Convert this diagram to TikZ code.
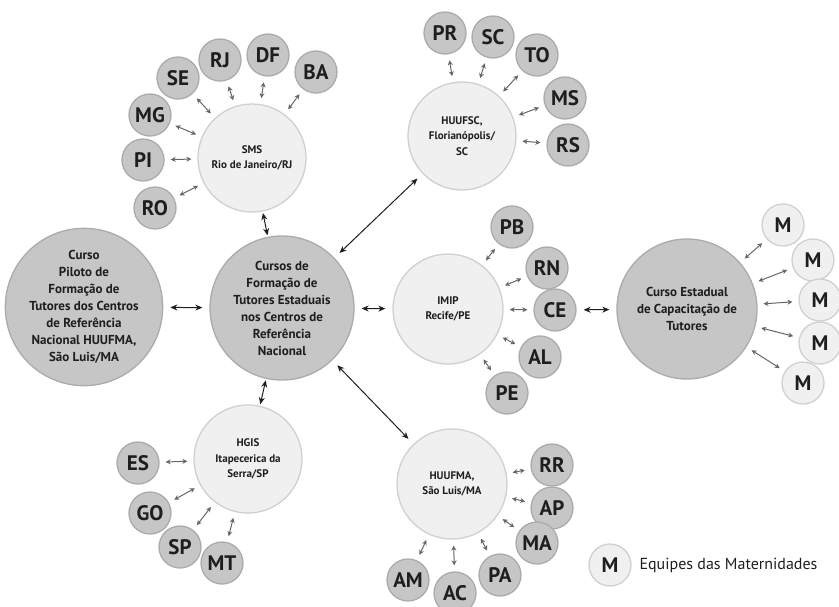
\documentclass[tikz,border=0pt]{standalone}
\usepackage{fontspec}
\setmainfont{PT Sans}
\usetikzlibrary{arrows.meta}
\definecolor{darkfill}{HTML}{C6C6C6}
\definecolor{darkline}{HTML}{ABABAB}
\definecolor{lightfill}{HTML}{F0F0F0}
\definecolor{lightline}{HTML}{D0D0D0}
\definecolor{txt}{HTML}{1E1E1E}
\definecolor{sgray}{HTML}{666666}
\tikzset{
  bigdark/.style={circle, fill=darkfill, draw=darkline, line width=1.3pt, inner sep=0pt, align=center, text=txt, font=\bfseries\fontsize{13}{17}\selectfont},
  hub/.style={circle, fill=lightfill, draw=lightline, line width=1.3pt, inner sep=0pt, align=center, text=txt, minimum size=108pt, font=\bfseries\fontsize{11}{15.5}\selectfont},
  st/.style={circle, fill=darkfill, draw=darkline, line width=1.3pt, inner sep=0pt, minimum size=42pt, text=txt, font=\bfseries\fontsize{21}{21}\selectfont},
  mm/.style={circle, fill=lightfill, draw=lightline, line width=1.3pt, inner sep=0pt, minimum size=42pt, text=txt, font=\bfseries\fontsize{21}{21}\selectfont},
  sarr/.style={<->, >={Stealth[length=5pt,width=5pt]}, draw=sgray, line width=1pt, shorten <=6pt, shorten >=6pt},
  barr/.style={<->, >={Stealth[length=7pt,width=6pt]}, draw=txt, line width=1pt, shorten <=7pt, shorten >=7pt},
  barrs/.style={barr, shorten <=1.5pt, shorten >=1.5pt},
}
\begin{document}
\begin{tikzpicture}[x=1pt,y=-1pt]
\useasboundingbox (0,0) rectangle (839,606);
% big nodes
\node[bigdark, minimum size=148pt] (piloto) at (84,307) {Curso\\Piloto de\\Formação de\\Tutores dos Centros\\de Referência\\Nacional HUUFMA,\\São Luis/MA};
\node[bigdark, minimum size=144pt] (central) at (282,308) {Cursos de\\Formação de\\Tutores Estaduais\\nos Centros de\\Referência\\Nacional};
\node[bigdark, minimum size=140pt] (estadual) at (687,309) {Curso Estadual\\de Capacitação de\\Tutores};
% hubs
\node[hub] (sms) at (252,158) {SMS\\Rio de Janeiro/RJ};
\node[hub] (huufsc) at (462,136) {HUUFSC,\\Florianópolis/\\SC};
\node[hub, minimum size=110pt] (imip) at (448,309) {IMIP\\Recife/PE};
\node[hub] (hgis) at (248,459) {HGIS\\Itapecerica da\\Serra/SP};
\node[hub, minimum size=110pt] (huufma) at (452,484) {HUUFMA,\\São Luis/MA};
% SMS states
\node[st] (SE) at (178,78) {SE};
\node[st] (RJ) at (220,60) {RJ};
\node[st] (DF) at (268,55) {DF};
\node[st] (BA) at (316,72) {BA};
\node[st] (MG) at (150,115) {MG};
\node[st] (PI) at (143,160) {PI};
\node[st] (RO) at (155,208) {RO};
\foreach \s in {SE,RJ,DF,BA,MG,PI,RO} \draw[sarr] (\s) -- (sms);
% HUUFSC states
\node[st] (PR) at (445,33) {PR};
\node[st] (SC) at (493,37) {SC};
\node[st] (TO) at (537,55) {TO};
\node[st] (MS) at (565,98) {MS};
\node[st] (RS) at (568,145) {RS};
\foreach \s in {PR,SC,TO,MS,RS} \draw[sarr] (\s) -- (huufsc);
% IMIP states
\node[st] (PB) at (512,227) {PB};
\node[st] (RN) at (547,268) {RN};
\node[st] (CE) at (555,310) {CE};
\node[st] (AL) at (540,357) {AL};
\node[st] (PE) at (507,393) {PE};
\foreach \s in {PB,RN,CE,AL,PE} \draw[sarr] (\s) -- (imip);
% HGIS states
\node[st] (ES) at (138,463) {ES};
\node[st] (GO) at (150,513) {GO};
\node[st] (SP) at (180,547) {SP};
\node[st] (MT) at (222,563) {MT};
\foreach \s in {ES,GO,SP,MT} \draw[sarr] (\s) -- (hgis);
% HUUFMA states
\node[st] (RR) at (552,465) {RR};
\node[st] (AP) at (552,508) {AP};
\node[st] (MA) at (537,543) {MA};
\node[st] (PA) at (500,575) {PA};
\node[st] (AC) at (455,593) {AC};
\node[st] (AM) at (408,580) {AM};
\foreach \s in {RR,AP,MA,PA,AC,AM} \draw[sarr] (\s) -- (huufma);
% maternity teams
\node[mm] (M1) at (783,225) {M};
\node[mm] (M2) at (813,260) {M};
\node[mm] (M3) at (820,300) {M};
\node[mm] (M4) at (820,343) {M};
\node[mm] (M5) at (803,383) {M};
\foreach \s in {M1,M2,M3,M4,M5} \draw[sarr] (\s) -- (estadual);
% main arrows
\draw[barr] (piloto) -- (central);
\draw[barr] (central) -- (imip);
\draw[barr] (CE) -- (estadual);
\draw[barrs] (central) -- (sms);
\draw[barrs] (central) -- (hgis);
\draw[barr] (central) -- (huufsc);
\draw[barr] (central) -- (huufma);
% legend
\node[mm] (legM) at (610,565) {M};
\node[anchor=west, text=txt, font=\fontsize{16}{16}\selectfont] (legT) at (636,565) {Equipes das Maternidades};
\end{tikzpicture}
\end{document}
